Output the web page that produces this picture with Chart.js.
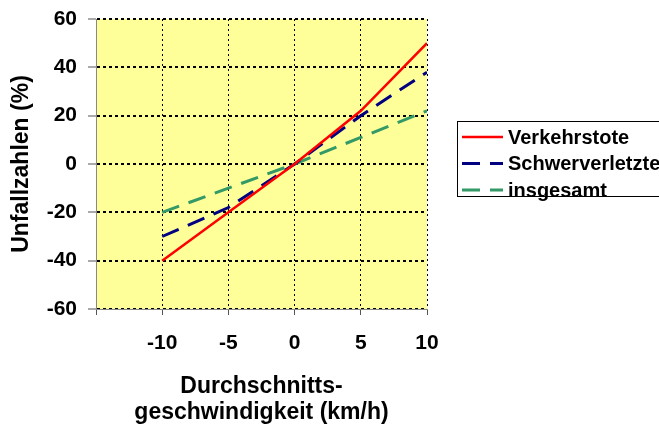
<!DOCTYPE html>
<html>
<head>
<meta charset="utf-8">
<script src="https://cdn.jsdelivr.net/npm/chart.js@4"></script>
<style>
  html, body { margin: 0; padding: 0; background: #fff; }
  canvas { display: block; }
</style>
</head>
<body>
<canvas id="chart" width="659" height="432"></canvas>
<script>
const speeds = [-10, -5, 0, 5, 10];
const verkehrstote = [-40, -20, 0, 22, 50];
const schwerverletzte = [-30, -18, 0, 20, 38];
const insgesamt = [-20, -10, 0, 11, 22];
const seriesNames = ['Verkehrstote', 'Schwerverletzte', 'insgesamt'];

const FONT = '"Liberation Sans", Arial, sans-serif';

function points(values) {
    return speeds.map((x, i) => ({ x: x, y: values[i] }));
}

// yellow plot background
const plotBg = {
    id: 'plotBg',
    beforeDraw(chart) {
        const a = chart.chartArea;
        const ctx = chart.ctx;
        ctx.save();
        ctx.fillStyle = '#FFFF99';
        ctx.fillRect(a.left, a.top, a.right - a.left, a.bottom - a.top);
        ctx.restore();
    }
};

// boxed legend on the right, cut by the canvas edge like the original
const boxLegend = {
    id: 'boxLegend',
    afterDraw(chart) {
        const ctx = chart.ctx;
        ctx.save();
        ctx.strokeStyle = '#000';
        ctx.lineWidth = 1;
        ctx.strokeRect(457.5, 121.5, 260, 75);
        ctx.font = 'bold 20px ' + FONT;
        ctx.textBaseline = 'middle';
        ctx.fillStyle = '#000';
        chart.data.datasets.forEach((ds, i) => {
            const y = 137 + i * 26.5;
            ctx.beginPath();
            ctx.strokeStyle = ds.borderColor;
            ctx.lineWidth = ds.borderWidth;
            ctx.setLineDash(ds.borderDash || []);
            ctx.moveTo(462, y);
            ctx.lineTo(503, y);
            ctx.stroke();
            ctx.setLineDash([]);
            ctx.fillText(ds.label, 508, y + 1);
        });
        ctx.restore();
    }
};

new Chart(document.getElementById('chart'), {
    type: 'line',
    data: {
        datasets: [{
            label: seriesNames[0],
            data: points(verkehrstote),
            borderColor: '#FF0000',
            borderWidth: 2.5,
            pointRadius: 0
        }, {
            label: seriesNames[1],
            data: points(schwerverletzte),
            borderColor: '#000080',
            borderWidth: 3,
            borderDash: [18, 10],
            pointRadius: 0
        }, {
            label: seriesNames[2],
            data: points(insgesamt),
            borderColor: '#339966',
            borderWidth: 3,
            borderDash: [18, 10],
            pointRadius: 0
        }]
    },
    options: {
        responsive: false,
        animation: false,
        layout: { padding: { left: 0, top: 19, right: 232, bottom: 0 } },
        plugins: {
            legend: { display: false },
            tooltip: { enabled: false }
        },
        scales: {
            x: {
                type: 'linear',
                min: -15,
                max: 10,
                afterFit: s => { s.height = 123; },
                ticks: {
                    stepSize: 5,
                    padding: 16,
                    color: '#000',
                    font: { family: FONT, size: 21, weight: 'bold' },
                    callback: v => (v === -15 ? '' : String(v))
                },
                grid: {
                    color: '#000',
                    lineWidth: 1,
                    tickLength: 6,
                    tickWidth: 1,
                    tickColor: '#555'
                },
                border: { color: '#888', width: 1, dash: [2, 3] },
                title: {
                    display: true,
                    text: ['Durchschnitts-', 'geschwindigkeit (km/h)'],
                    color: '#000',
                    font: { family: FONT, size: 23, weight: 'bold', lineHeight: 1.13 },
                    padding: { top: 0, bottom: 6 }
                }
            },
            y: {
                min: -60,
                max: 60,
                afterFit: s => {
                    s.width = 96;
                    s.paddingTop = 0;
                    s.paddingBottom = 0;
                },
                ticks: {
                    stepSize: 20,
                    padding: 11,
                    color: '#000',
                    font: { family: FONT, size: 21, weight: 'bold' }
                },
                grid: {
                    color: '#000',
                    lineWidth: 2,
                    tickLength: 8,
                    tickWidth: 1,
                    tickColor: '#555'
                },
                border: { color: '#888', width: 1, dash: [3, 3] },
                title: {
                    display: true,
                    text: 'Unfallzahlen (%)',
                    color: '#000',
                    font: { family: FONT, size: 23, weight: 'bold', lineHeight: 1.2 },
                    padding: { top: 8, bottom: 0 }
                }
            }
        }
    },
    plugins: [plotBg, boxLegend]
});
</script>
</body>
</html>
